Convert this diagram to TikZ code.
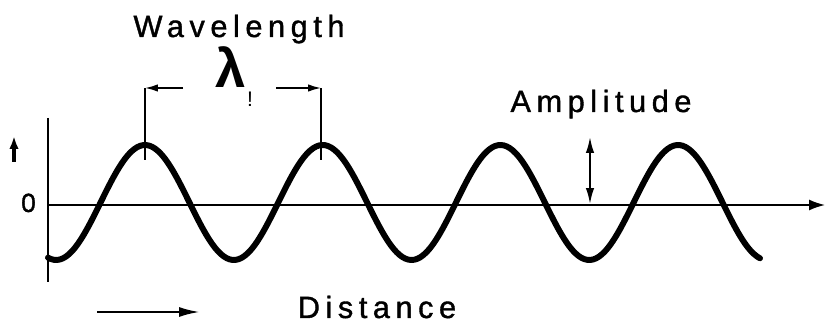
\documentclass[tikz,border=0pt]{standalone}
\usepackage{fontspec}
\setmainfont{Liberation Sans}
\newfontfamily\spacedfont[LetterSpace=18, FakeBold=1.2]{Liberation Sans}
\newfontfamily\heavyfont[FakeBold=1.2]{Liberation Sans}
\usetikzlibrary{arrows.meta}

\begin{document}
\begin{tikzpicture}[
    x=0.02cm, y=-0.02cm,
    >=Latex,
    axis/.style={line width=0.9pt},
    wave/.style={line width=3.4pt, line cap=round},
    bracket/.style={line width=0.9pt},
    caption/.style={font=\spacedfont\fontsize{17.5}{20}\selectfont, inner sep=0pt, anchor=base}
    ]
    \useasboundingbox (0,0) rectangle (826,324);

    % --- Ejes ---
    \coordinate (orig) at (48,205);
    \coordinate (ytop) at (48,118);
    \coordinate (ybot) at (48,282);
    \coordinate (xend) at (825,205);

    \draw[axis, line width=1.2pt] (ytop) -- (ybot);
    \draw[axis, -{Latex[length=0.32cm,width=0.22cm]}] (orig) -- (xend);

    \coordinate (upA) at (14,162);
    \coordinate (upB) at (14,136);
    \draw[line width=1.8pt, -{Latex[length=0.26cm,width=0.19cm]}] (upA) -- (upB);

    \node (zero) [anchor=base, inner sep=0pt, font=\heavyfont\fontsize{15}{17}\selectfont] at (28.5,212) {0};

    % --- Onda ---
    \draw[wave] plot[domain=48:760, samples=240, smooth]
        (\x, {202.5-57.5*cos(2.0259*(\x-145))});

    % --- Longitud de onda ---
    \node (wl) [caption] at (239,37) {Wavelength};
    \node (lam) [anchor=base, inner sep=0pt, font=\bfseries\fontsize{31}{34}\selectfont] at (231,88) {λ};
    \node (tick) [anchor=base, inner sep=0pt, font=\fontsize{12}{13}\selectfont] at (250,107) {!};

    \coordinate (lpeak) at (145,160);
    \coordinate (lcorner) at (145,88);
    \coordinate (lend) at (183,88);
    \coordinate (rpeak) at (321,160);
    \coordinate (rcorner) at (321,88);
    \coordinate (rend) at (276,88);

    \draw[bracket] (lpeak) -- (lcorner);
    \draw[bracket, -{Latex[length=0.26cm,width=0.15cm]}] (lend) -- (lcorner);
    \draw[bracket] (rpeak) -- (rcorner);
    \draw[bracket, -{Latex[length=0.26cm,width=0.15cm]}] (rend) -- (rcorner);

    % --- Amplitud ---
    \node (amp) [caption] at (601,112) {Amplitude};
    \coordinate (atop) at (590,137);
    \coordinate (abot) at (590,204);
    \draw[bracket, line width=1.1pt, {Latex[length=0.32cm,width=0.17cm]}-{Latex[length=0.32cm,width=0.17cm]}] (atop) -- (abot);

    % --- Distancia ---
    \node (dist) [caption] at (377,318) {Distance};
    \coordinate (dA) at (97,312);
    \coordinate (dB) at (200,312);
    \draw[line width=1.4pt, -{Latex[length=0.42cm,width=0.2cm]}] (dA) -- (dB);

\end{tikzpicture}
\end{document}
